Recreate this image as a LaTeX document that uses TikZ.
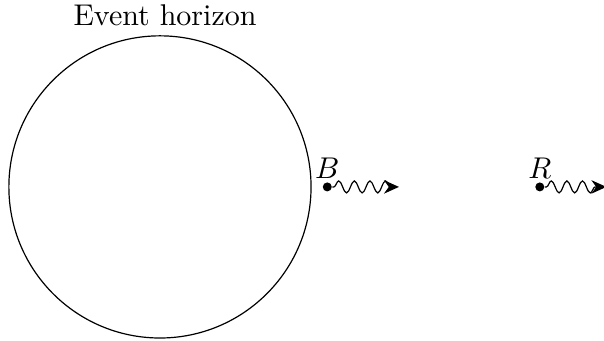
\documentclass[tikz,border=0pt]{standalone}
\usetikzlibrary{positioning,decorations.pathmorphing,arrows.meta}

\begin{document}
\begin{tikzpicture}[
    dot/.style={circle,fill=black,inner sep=0pt,minimum size=3pt},
    wave/.style={-{Stealth[length=5pt,width=4.5pt]},decorate,
      decoration={snake,amplitude=2pt,segment length=5.2pt,pre length=0.5pt,post length=2.5pt}}
  ]
  \useasboundingbox (-1.874,-1.805) rectangle (5.202,2.19);
  \node[draw,circle,minimum size=3.54cm,inner sep=0pt] (horizon) at (0,0) {};
  \node[above=-0.5pt of horizon,xshift=1.7pt] (hlabel) {Event horizon};

  \node[dot,label={[inner sep=1pt]above:$B$}] (b) at (1.96,0) {};
  \coordinate[right=0.78cm of b] (bend);
  \node[dot,label={[inner sep=1pt]above:$R$}] (r) at (4.45,0) {};
  \coordinate[right=0.72cm of r] (rend);

  \draw[wave] (b) -- (bend);
  \draw[wave] (r) -- (rend);
\end{tikzpicture}
\end{document}
